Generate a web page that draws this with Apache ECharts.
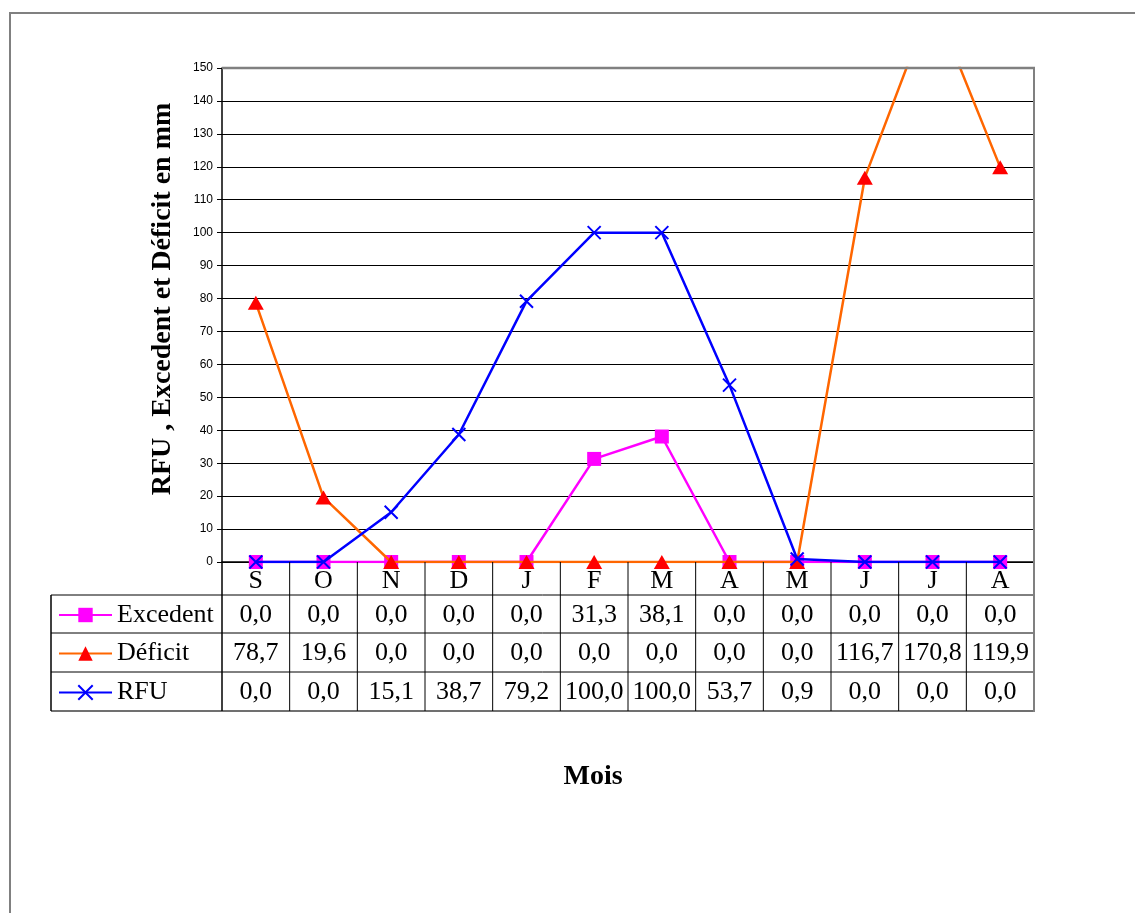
<!DOCTYPE html>
<html>
<head>
<meta charset="utf-8">
<script src="https://cdn.jsdelivr.net/npm/echarts@6/dist/echarts.min.js"></script>
<style>
html,body{margin:0;padding:0;background:#fff;}
#c{width:1135px;height:913px;}
</style>
</head>
<body>
<div id="c"></div>
<script>
// ---- data ----
const months = ['S','O','N','D','J','F','M','A','M','J','J','A'];
const excedent = [0.0,0.0,0.0,0.0,0.0,31.3,38.1,0.0,0.0,0.0,0.0,0.0];
const deficit  = [78.7,19.6,0.0,0.0,0.0,0.0,0.0,0.0,0.0,116.7,170.8,119.9];
const rfu      = [0.0,0.0,15.1,38.7,79.2,100.0,100.0,53.7,0.9,0.0,0.0,0.0];
const seriesNames = ['Excedent','Déficit','RFU'];
const yTitle = 'RFU , Excedent et Déficit en mm';
const xTitle = 'Mois';

// ---- layout ----
const GL = 222, GT = 68, GW = 812, GH = 494;
const GB = GT + GH;                 // 562
const rowEdges = [GB + 33, GB + 71, GB + 110, GB + 149]; // 595,633,672,711
const TABLE_LEFT = 51;
const SERIF = '"Liberation Serif","Times New Roman",serif';

const chart = echarts.init(document.getElementById('c'), null, {renderer:'canvas'});

const fmt = v => v.toFixed(1).replace('.', ',');

function legendFor(name, idx){
  const cy = (rowEdges[idx] + rowEdges[idx+1]) / 2;
  return {
    data:[name], left:58, top: cy - 14, itemWidth:53, itemHeight:18, itemGap:0,
    padding:0, selectedMode:false,
    textStyle:{fontFamily:SERIF, fontSize:26, color:'#000', lineHeight:30}
  };
}

const option = {
  backgroundColor:'#fff',
  animation:false,
  grid:{left:GL, top:GT, width:GW, height:GH, show:false},
  legend:[legendFor(seriesNames[0],0), legendFor(seriesNames[1],1), legendFor(seriesNames[2],2)],
  xAxis:{
    type:'category', data:months, boundaryGap:true,
    axisLine:{lineStyle:{color:'#000', width:1.5}},
    axisTick:{show:false},
    axisLabel:{fontFamily:SERIF, fontSize:26, color:'#000', margin:4, interval:0, lineHeight:30},
    splitLine:{show:false}
  },
  yAxis:{
    type:'value', min:0, max:150, interval:10,
    axisLine:{show:true, lineStyle:{color:'#000', width:1.5}},
    axisTick:{show:true, length:5, lineStyle:{color:'#000'}},
    axisLabel:{fontFamily:'"Liberation Sans",Arial,sans-serif', fontSize:12, color:'#000', margin:9},
    splitLine:{show:true, lineStyle:{color:'#000', width:1}}
  },
  series:[
    {name:seriesNames[0], type:'line', data:excedent, z:2,
      symbol:'rect', symbolSize:14, clip:true,
      itemStyle:{color:'#FF00FF'}, lineStyle:{color:'#FF00FF', width:2.5}},
    {name:seriesNames[1], type:'line', data:deficit, z:3,
      symbol:'triangle', symbolSize:[16,14], clip:true,
      itemStyle:{color:'#FF0000'}, lineStyle:{color:'#FF6600', width:2.5}},
    {name:seriesNames[2], type:'line', data:rfu, z:4,
      symbol:'path://M0,0L10,10M10,0L0,10', symbolSize:13, clip:true,
      itemStyle:{color:'#0000FF', borderColor:'#0000FF', borderWidth:2},
      lineStyle:{color:'#0000FF', width:2.5}}
  ]
};
chart.setOption(option);

// ---- data table + titles via graphic ----
const els = [];
// outer frame
els.push({type:'rect', shape:{x:10, y:13, width:1300, height:1100},
  style:{fill:null, stroke:'#808080', lineWidth:2}, silent:true, z:0});
const colW = GW / months.length;
const line = (x1,y1,x2,y2,color,w,z) => ({type:'line', shape:{x1,y1,x2,y2},
  style:{stroke:color||'#000', lineWidth:w||1}, silent:true, z:z||10});
// plot area top / right border (gray)
els.push(line(GL, GT, GL+GW+1, GT, '#808080', 2.5, 30));
els.push(line(GL+GW, GT, GL+GW, rowEdges[3]+1, '#808080', 2, 30));
// horizontal table lines
rowEdges.forEach((y,i)=>{
  const last = i===rowEdges.length-1;
  els.push(line(TABLE_LEFT, y, GL+GW, y, last ? '#404040' : '#000', last ? 1.5 : 1));
});
// vertical table lines
els.push(line(TABLE_LEFT, rowEdges[0], TABLE_LEFT, rowEdges[3], '#000', 1.5));
for (let k = 0; k < months.length; k++) {
  const x = GL + k*colW;
  els.push(line(x, GB, x, rowEdges[3], '#000', k===0 ? 1.5 : 1));
}
// values
const rows = [excedent, deficit, rfu];
rows.forEach((arr, r)=>{
  const cy = (rowEdges[r] + rowEdges[r+1]) / 2;
  arr.forEach((v,i)=>{
    const cx = chart.convertToPixel({xAxisIndex:0}, i);
    els.push({type:'text', x:cx, y:cy + 1, silent:true, z:11,
      style:{text:fmt(v), font:'26px '+SERIF, fill:'#000', align:'center', verticalAlign:'middle'}});
  });
});
// titles
els.push({type:'text', x:163, y:299, rotation:Math.PI/2, silent:true, z:11,
  style:{text:yTitle, font:'bold 28px '+SERIF, fill:'#000', align:'center', verticalAlign:'middle'}});
els.push({type:'text', x:593, y:777, silent:true, z:11,
  style:{text:xTitle, font:'bold 28px '+SERIF, fill:'#000', align:'center', verticalAlign:'middle'}});

chart.setOption({graphic:{z:5, elements:els}});
</script>
</body>
</html>
